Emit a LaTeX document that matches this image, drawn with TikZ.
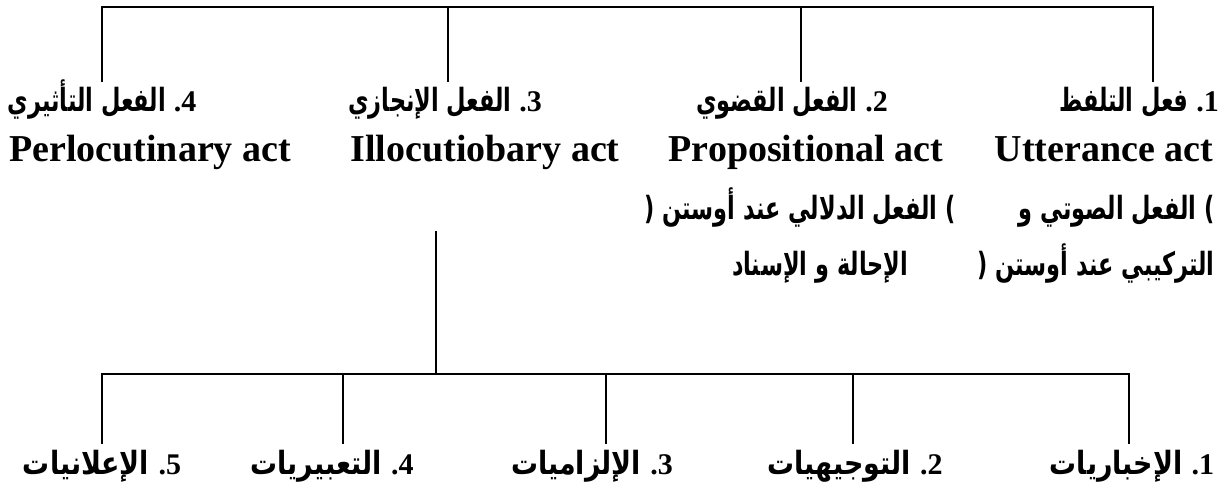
\documentclass[tikz,border=0pt]{standalone}
\usepackage{fontspec}
\setmainfont{Liberation Serif}
\newfontfamily\arabicfont[Script=Arabic,FakeStretch=0.7]{DejaVu Sans}
\newfontfamily\arabicwide[Script=Arabic,FakeStretch=0.84]{DejaVu Sans}
\TeXXeTstate=1
\usetikzlibrary{positioning}

\newcommand{\arnum}[1]{{\rmfamily\fontsize{15}{18}\selectfont .#1}}
\newcommand{\artext}[1]{{\arabicfont\beginR #1\endR}}
\newcommand{\artextw}[1]{{\arabicwide\beginR #1\endR}}

\begin{document}
\begin{tikzpicture}[x=0.5pt,y=-0.5pt]
\tikzstyle{arlabel}=[inner sep=0pt,anchor=base,font=\fontsize{16}{19}\selectfont\bfseries]
\tikzstyle{enlabel}=[inner sep=0pt,anchor=base,font=\fontsize{19}{22}\selectfont\bfseries]
\tikzstyle{branch}=[line width=0.7pt]
\useasboundingbox (0,0) rectangle (1229,490);
    % the four acts
    \node[arlabel] (h4) at (102,112) {\artext{\arnum{4} الفعل التأثيري}};
    \node[arlabel] (h3) at (445,112) {\artext{\arnum{3} الفعل الإنجازي}};
    \node[arlabel] (h2) at (792,112) {\artext{\arnum{2} الفعل القضوي}};
    \node[arlabel] (h1) at (1139,112) {\artext{\arnum{1} فعل التلفظ}};
    \node[enlabel] (e4) at (150,162) {Perlocutinary act};
    \node[enlabel] (e3) at (485,162) {Illocutiobary act};
    \node[enlabel] (e2) at (806,162) {Propositional act};
    \node[enlabel] (e1) at (1104,162) {Utterance act};
    \node[arlabel,anchor=base east] (n1a) at (1215,220) {\artext{) الفعل الصوتي و}};
    \node[arlabel,anchor=base east] (n1b) at (1215,276) {\artext{التركيبي عند أوستن (}};
    \node[arlabel] (n2a) at (800,220) {\artext{) الفعل الدلالي عند أوستن (}};
    \node[arlabel] (n2b) at (820,276) {\artext{الإحالة و الإسناد}};
    % the five kinds
    \node[arlabel] (k5) at (102,475) {\artextw{\arnum{5} الإعلانيات}};
    \node[arlabel] (k4) at (332,475) {\artextw{\arnum{4} التعبيريات}};
    \node[arlabel] (k3) at (592,475) {\artextw{\arnum{3} الإلزاميات}};
    \node[arlabel] (k2) at (855,475) {\artextw{\arnum{2} التوجيهيات}};
    \node[arlabel] (k1) at (1132,475) {\artextw{\arnum{1} الإخباريات}};
    % upper tree
    \coordinate (t4) at (102,7);
    \coordinate (t3) at (448,7);
    \coordinate (t2) at (801,7);
    \coordinate (t1) at (1153,7);
    \coordinate (s4) at (102,82);
    \coordinate (s3) at (448,82);
    \coordinate (s2) at (801,82);
    \coordinate (s1) at (1153,82);
    \draw[branch] (s4) -- (t4) -- (t1) -- (s1);
    \draw[branch] (s3) -- (t3);
    \draw[branch] (s2) -- (t2);
    % lower tree
    \coordinate (stem) at (436,231);
    \coordinate (u5) at (102,374);
    \coordinate (u4) at (343,374);
    \coordinate (u3) at (606,374);
    \coordinate (u2) at (853,374);
    \coordinate (u1) at (1129,374);
    \coordinate (v5) at (102,444);
    \coordinate (v4) at (343,444);
    \coordinate (v3) at (606,444);
    \coordinate (v2) at (853,444);
    \coordinate (v1) at (1129,444);
    \draw[branch] (stem) -- (stem |- u5);
    \draw[branch] (v5) -- (u5) -- (u1) -- (v1);
    \foreach \i in {2,3,4}
      \draw[branch] (u\i) -- (v\i);
\end{tikzpicture}
\end{document}
